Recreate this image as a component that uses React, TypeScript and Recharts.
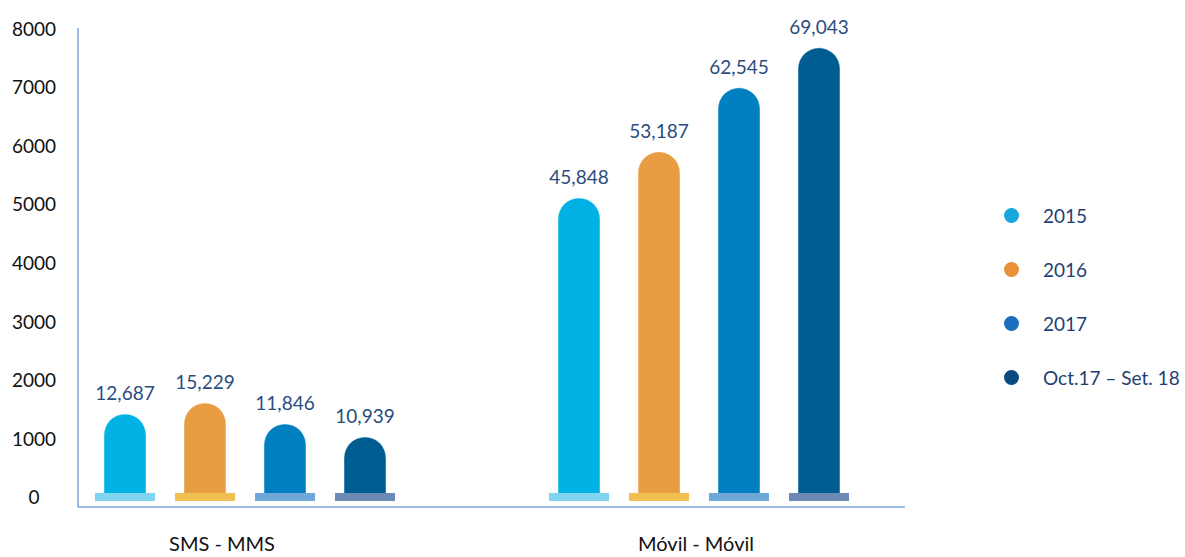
import React from 'react';
import { BarChart, Bar, XAxis, YAxis, LabelList } from 'recharts';

const categories = ['SMS - MMS', 'Móvil - Móvil'];
const seriesNames = ['2015', '2016', '2017', 'Oct.17 – Set. 18'];
// bar heights as drawn against the axis
const heights2015 = [1416, 5102];
const heights2016 = [1604, 5887];
const heights2017 = [1246, 6980];
const heightsOct = [1024, 7662];
// printed value labels
const labels2015 = [12687, 45848];
const labels2016 = [15229, 53187];
const labels2017 = [11846, 62545];
const labelsOct = [10939, 69043];
const yTicks = [0, 1000, 2000, 3000, 4000, 5000, 6000, 7000, 8000];

const barColors = ['#00b2e3', '#e89d43', '#0080c0', '#005d92'];
const plateColors = ['#80d4f0', '#f0c050', '#6fa8d8', '#6a8ab5'];
const dotColors = ['#19a6e0', '#e8903a', '#1a6ebd', '#0a4a80'];
const FONT = 'Lato, "Open Sans", sans-serif';

const data = categories.map((c, i) => ({
  name: c,
  s0: heights2015[i],
  s1: heights2016[i],
  s2: heights2017[i],
  s3: heightsOct[i],
  l0: labels2015[i].toLocaleString('en-US'),
  l1: labels2016[i].toLocaleString('en-US'),
  l2: labels2017[i].toLocaleString('en-US'),
  l3: labelsOct[i].toLocaleString('en-US'),
}));

const makeShape = (idx: number) => (props: any) => {
  const { x, y, width, height } = props;
  const r = width / 2;
  const bottom = y + height;
  const cx = x + width / 2;
  const top = y;
  const path = `M${x},${bottom} L${x},${top + r} A${r},${r} 0 0 1 ${x + width},${top + r} L${x + width},${bottom} Z`;
  return (
    <g>
      <path d={path} fill={barColors[idx]} stroke="rgba(255,255,255,0.45)" strokeWidth={1} />
      <rect x={cx - 30} y={bottom - 4} width={60} height={8} fill={plateColors[idx]} />
    </g>
  );
};

const YTick = (props: any) => {
  const { y, payload } = props;
  return (
    <text x={34} y={y} textAnchor="middle" dominantBaseline="central" fill="#111" fontFamily={FONT} fontSize={19}>
      {payload.value}
    </text>
  );
};

const xShift = [-23, -3];
const XTick = (props: any) => {
  const { x, y, payload, index } = props;
  return (
    <text x={x + (xShift[index] || 0)} y={y + 28} textAnchor="middle" dominantBaseline="central" fill="#111" fontFamily={FONT} fontSize={20}>
      {payload.value}
    </text>
  );
};

const LegendBlock = () => (
  <div style={{ position: 'absolute', left: 1004, top: 188, width: 181, fontFamily: FONT }}>
    {seriesNames.map((n, i) => (
      <div key={n} style={{ height: 54, display: 'flex', alignItems: 'center' }}>
        <div style={{ width: 15, height: 15, borderRadius: '50%', background: dotColors[i], marginRight: 24 }} />
        <span style={{ color: '#1f3f73', fontSize: 19 }}>{n}</span>
      </div>
    ))}
  </div>
);

export default function App() {
  return (
    <div style={{ position: 'absolute', left: 0, top: 0, width: 1185, height: 557, background: '#fff' }}>
      <BarChart
        width={1185}
        height={557}
        data={data}
        margin={{ top: 28, right: 280, bottom: 0, left: 0 }}
        barSize={42}
        barGap={38}
      >
        <XAxis
          dataKey="name"
          axisLine={{ stroke: '#7da7d9', strokeWidth: 1.5 }}
          tickLine={false}
          tick={<XTick />}
          height={50}
          padding={{ left: -60, right: -21 }}
        />
        <YAxis
          domain={[-171, 8000]}
          ticks={yTicks}
          axisLine={{ stroke: '#7da7d9', strokeWidth: 1.5 }}
          tickLine={false}
          tick={<YTick />}
          width={78}
          interval={0}
        />
        {[0, 1, 2, 3].map((i) => (
          <Bar key={i} dataKey={`s${i}`} name={seriesNames[i]} fill={barColors[i]} shape={makeShape(i)} isAnimationActive={false}>
            <LabelList dataKey={`l${i}`} position="top" offset={14} fill="#2a4d7f" fontFamily={FONT} fontSize={19} />
          </Bar>
        ))}
      </BarChart>
      <LegendBlock />
    </div>
  );
}
